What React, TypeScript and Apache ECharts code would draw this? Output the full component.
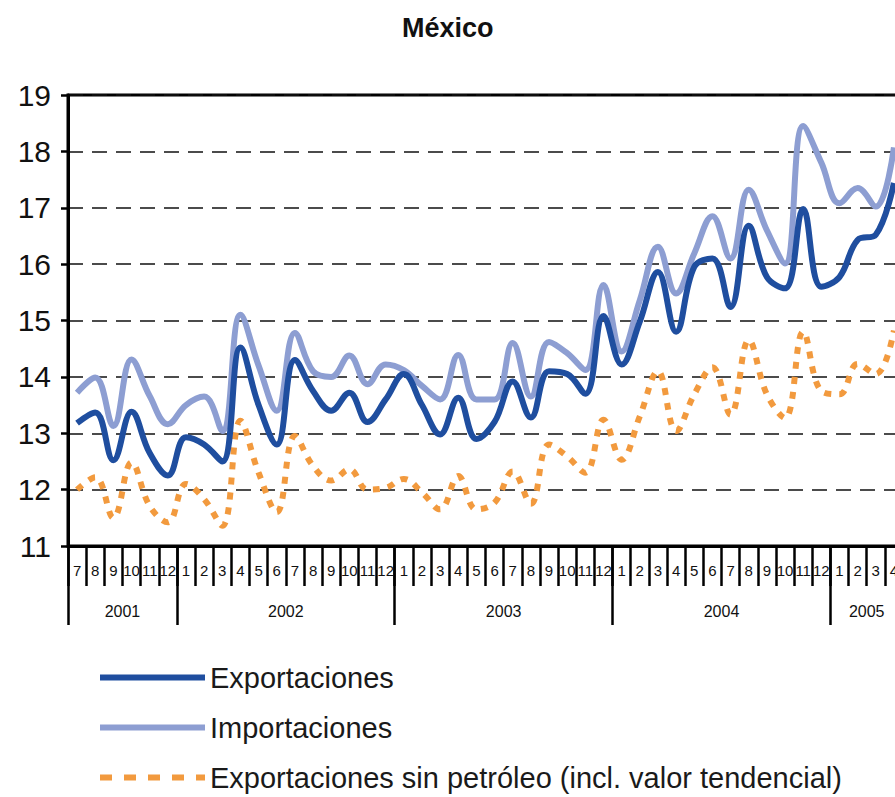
import React, { useEffect, useRef } from "react";
import * as echarts from "echarts";

// Category axis: months from 2001-07 to 2005-04
const years = [2001, 2002, 2003, 2004, 2005];
const firstMonth = [7, 1, 1, 1, 1];
const lastMonth = [12, 12, 12, 12, 4];

const categories: string[] = [];
years.forEach((y, k) => {
  for (let m = firstMonth[k]; m <= lastMonth[k]; m++) {
    categories.push(`${y}-${m < 10 ? "0" + m : m}`);
  }
});

const yTicks = [11, 12, 13, 14, 15, 16, 17, 18, 19];

const exportaciones = [
  13.18, 13.37, 12.52, 13.38, 12.65, 12.25,
  12.93, 12.8, 12.5, 14.52, 13.5, 12.8, 14.3, 13.75, 13.4, 13.72, 13.2, 13.6,
  14.05, 13.5, 12.98, 13.63, 12.9, 13.2, 13.92, 13.28, 14.1, 14.05, 13.7, 15.08,
  14.22, 14.98, 15.86, 14.8, 15.95, 16.1, 15.24, 16.68, 15.77, 15.57, 16.98, 15.6,
  15.77, 16.43, 16.52, 17.44,
];

const importaciones = [
  13.72, 13.99, 13.13, 14.31, 13.66, 13.16,
  13.5, 13.65, 13.04, 15.1, 14.2, 13.4, 14.78, 14.1, 14.0, 14.38, 13.87, 14.22,
  14.12, 13.84, 13.6, 14.39, 13.6, 13.6, 14.6, 13.65, 14.62, 14.42, 14.12, 15.63,
  14.45, 15.36, 16.31, 15.48, 16.19, 16.85, 16.1, 17.32, 16.6, 16.01, 18.45, 17.8,
  17.08, 17.35, 17.02, 18.07,
];

const sinPetroleo = [
  12.0, 12.22, 11.5, 12.48, 11.71, 11.42,
  12.1, 11.83, 11.36, 13.22, 12.3, 11.6, 12.95, 12.42, 12.16, 12.36, 12.0, 12.03,
  12.19, 11.95, 11.65, 12.24, 11.65, 11.77, 12.32, 11.75, 12.8, 12.59, 12.3, 13.24,
  12.53, 13.3, 14.1, 13.04, 13.69, 14.17, 13.33, 14.65, 13.69, 13.27, 14.8, 13.75,
  13.69, 14.23, 14.05, 14.82,
];

const seriesNames = [
  "Exportaciones",
  "Importaciones",
  "Exportaciones sin petróleo (incl. valor tendencial)",
];

const DARK = "#1F4E9F";
const LIGHT = "#8D9ED2";
const ORANGE = "#F29A3E";
const FONT = "'Liberation Sans', Arial, sans-serif";

export default function App() {
  const ref = useRef<HTMLDivElement>(null);

  useEffect(() => {
    if (!ref.current) return;
    const chart = echarts.init(ref.current, undefined, { renderer: "svg" });

    const gridLeft = 68;
    const gridWidth = 835;
    const band = gridWidth / categories.length;

    const yearTickIdx = categories
      .map((c, i) => (i === 0 || c.endsWith("-01") ? i : -1))
      .filter((i) => i >= 0);
    const yearLabelIdx = years.map((y) => {
      const idx = categories
        .map((c, i) => (c.startsWith(String(y)) ? i : -1))
        .filter((i) => i >= 0);
      return idx[0] + Math.floor(idx.length / 2) - 1;
    });

    const hiddenSymbol = { opacity: 0, borderWidth: 0 };

    chart.setOption({
      animation: false,
      backgroundColor: "#ffffff",
      title: {
        text: "México",
        left: 402,
        top: 14,
        padding: 0,
        textStyle: { fontFamily: FONT, fontSize: 27, fontWeight: "bold", color: "#111" },
      },
      grid: {
        left: gridLeft,
        top: 95,
        width: gridWidth,
        height: 451,
        show: true,
        borderColor: "#000",
        borderWidth: 3,
        backgroundColor: "transparent",
      },
      legend: {
        orient: "vertical",
        left: 97,
        top: 663,
        padding: 0,
        itemWidth: 105,
        itemHeight: 14,
        itemGap: 21,
        textStyle: { fontFamily: FONT, fontSize: 29, color: "#1a1a1a", lineHeight: 27 },
        data: [
          { name: seriesNames[0], itemStyle: hiddenSymbol, lineStyle: { width: 6, color: DARK } },
          { name: seriesNames[1], itemStyle: hiddenSymbol, lineStyle: { width: 6, color: LIGHT } },
          {
            name: seriesNames[2],
            itemStyle: hiddenSymbol,
            lineStyle: { width: 6, color: ORANGE, type: [12, 12] },
          },
        ],
      },
      xAxis: [
        {
          type: "category",
          data: categories,
          boundaryGap: true,
          position: "bottom",
          axisLine: { show: true, lineStyle: { color: "#000", width: 3 } },
          axisTick: { show: true, interval: 0, length: 40, lineStyle: { color: "#000", width: 2.5 } },
          axisLabel: {
            interval: 0,
            margin: 17,
            fontFamily: FONT,
            fontSize: 15,
            color: "#111",
            formatter: (v: string) => String(parseInt(v.slice(5), 10)),
          },
          splitLine: { show: false },
        },
        {
          type: "category",
          data: categories,
          boundaryGap: true,
          position: "bottom",
          axisLine: { show: false },
          axisTick: {
            show: true,
            length: 79,
            interval: (i: number) => yearTickIdx.includes(i),
            lineStyle: { color: "#000", width: 2.5 },
          },
          axisLabel: {
            interval: (i: number) => yearLabelIdx.includes(i),
            margin: 57,
            fontFamily: FONT,
            fontSize: 16,
            color: "#111",
            padding: [0, 0, 0, band],
            formatter: (v: string) => v.slice(0, 4),
          },
          splitLine: { show: false },
        },
      ],
      yAxis: {
        type: "value",
        min: yTicks[0],
        max: yTicks[yTicks.length - 1],
        interval: 1,
        axisLine: { show: true, lineStyle: { color: "#000", width: 3 } },
        axisTick: { show: true, length: 7, lineStyle: { color: "#000", width: 2.5 } },
        axisLabel: { margin: 17, fontFamily: FONT, fontSize: 30, color: "#111" },
        splitLine: { show: true, lineStyle: { color: "#111", width: 1.6, type: [15, 9] } },
      },
      series: [
        {
          name: seriesNames[0],
          type: "line",
          data: exportaciones,
          smooth: 0.4,
          symbol: "none",
          z: 4,
          lineStyle: { color: DARK, width: 6 },
          itemStyle: { color: DARK },
        },
        {
          name: seriesNames[1],
          type: "line",
          data: importaciones,
          smooth: 0.4,
          symbol: "none",
          z: 3,
          lineStyle: { color: LIGHT, width: 6 },
          itemStyle: { color: LIGHT },
        },
        {
          name: seriesNames[2],
          type: "line",
          data: sinPetroleo,
          smooth: 0.4,
          symbol: "none",
          z: 2,
          lineStyle: { color: ORANGE, width: 6, type: [7, 8] },
          itemStyle: { color: ORANGE },
        },
      ],
    });

    return () => chart.dispose();
  }, []);

  return (
    <div
      style={{
        position: "fixed",
        left: 0,
        top: 0,
        width: 895,
        height: 797,
        overflow: "hidden",
        background: "#fff",
      }}
    >
      <div ref={ref} style={{ width: 912, height: 840 }} />
    </div>
  );
}
